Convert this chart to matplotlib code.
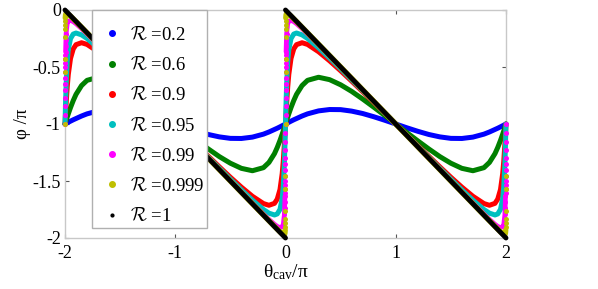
import matplotlib
matplotlib.use("Agg")
import matplotlib.pyplot as plt
from matplotlib.lines import Line2D
import numpy as np

plt.rcParams["font.family"] = ["Liberation Serif", "DejaVu Serif"]
plt.rcParams["mathtext.fontset"] = "cm"
plt.rcParams["axes.unicode_minus"] = False

# one period of theta_cav/pi (the picture repeats it over [-2, 0])
THETA = [0, 0.005, 0.01, 0.02, 0.03, 0.05, 0.075, 0.1, 0.15, 0.2, 0.3, 0.4, 0.5,
         0.6, 0.7, 0.8, 0.9, 1.0, 1.1, 1.2, 1.3, 1.4, 1.5, 1.6, 1.7, 1.8, 1.85,
         1.9, 1.925, 1.95, 1.97, 1.98, 1.99, 1.995, 2.0]

PHI_02 = [-1, -0.998, -0.995, -0.990, -0.985, -0.975, -0.963, -0.952, -0.930,
          -0.911, -0.885, -0.873, -0.874, -0.887, -0.908, -0.936, -0.967, -1.0,
          -1.033, -1.064, -1.092, -1.113, -1.126, -1.127, -1.115, -1.089, -1.070,
          -1.048, -1.037, -1.025, -1.015, -1.010, -1.005, -1.002, -1.0]
PHI_06 = [-1, -0.985, -0.970, -0.940, -0.911, -0.856, -0.794, -0.740, -0.663,
          -0.617, -0.590, -0.611, -0.656, -0.714, -0.781, -0.852, -0.925, -1.0,
          -1.075, -1.148, -1.219, -1.286, -1.344, -1.389, -1.410, -1.383, -1.337,
          -1.260, -1.206, -1.144, -1.089, -1.060, -1.030, -1.015, -1.0]
PHI_09 = [-1, -0.911, -0.825, -0.677, -0.565, -0.425, -0.341, -0.304, -0.287,
          -0.302, -0.366, -0.446, -0.533, -0.624, -0.717, -0.811, -0.905, -1.0,
          -1.095, -1.189, -1.283, -1.376, -1.467, -1.554, -1.634, -1.698, -1.713,
          -1.696, -1.659, -1.575, -1.435, -1.323, -1.175, -1.089, -1.0]
PHI_095 = [-1, -0.816, -0.660, -0.456, -0.347, -0.251, -0.211, -0.202, -0.218,
           -0.250, -0.332, -0.422, -0.516, -0.612, -0.708, -0.805, -0.903, -1.0,
           -1.097, -1.195, -1.292, -1.388, -1.484, -1.578, -1.668, -1.750, -1.782,
           -1.798, -1.789, -1.749, -1.653, -1.544, -1.340, -1.184, -1.0]

# R = 0.99: smooth part + the sparse dots of the jump at theta = 0 / 2
THETA_099 = [0.005, 0.01, 0.02, 0.03, 0.05, 0.075, 0.1, 0.15, 0.2, 0.3, 0.4, 0.5,
             0.6, 0.7, 0.8, 0.9, 1.0, 1.1, 1.2, 1.3, 1.4, 1.5, 1.6, 1.7, 1.8,
             1.85, 1.9, 1.925, 1.95, 1.97, 1.98, 1.99, 1.995]
PHI_099 = [-0.367, -0.207, -0.121, -0.098, -0.091, -0.102, -0.120, -0.163, -0.210,
           -0.306, -0.404, -0.503, -0.602, -0.702, -0.801, -0.901, -1.0, -1.099,
           -1.199, -1.298, -1.398, -1.497, -1.596, -1.694, -1.790, -1.837, -1.880,
           -1.898, -1.909, -1.902, -1.879, -1.793, -1.633]
JUMP_THETA_099 = [0, 0.0004, 0.0008, 0.0012, 0.0016, 0.002, 0.0024, 0.0028, 0.0032,
                  0.0036, 0.004, 0.0045, 0.005, 0.006, 0.0075, 0.01,
                  1.99, 1.9925, 1.994, 1.995, 1.9955, 1.996, 1.9964, 1.9968,
                  1.9972, 1.9976, 1.998, 1.9984, 1.9988, 1.9992, 1.9996, 2.0]
JUMP_PHI_099 = [-1, -0.921, -0.845, -0.772, -0.706, -0.646, -0.593, -0.545, -0.503,
                -0.466, -0.434, -0.398, -0.367, -0.318, -0.264, -0.207,
                -1.793, -1.736, -1.682, -1.633, -1.602, -1.566, -1.534, -1.497,
                -1.455, -1.407, -1.354, -1.294, -1.228, -1.155, -1.079, -1.0]

# R = 0.999
THETA_0999 = [0.003, 0.005, 0.01, 0.02, 0.03, 0.05, 0.1, 0.2, 0.5, 1.0, 1.5, 1.8,
              1.9, 1.95, 1.97, 1.98, 1.99, 1.995, 1.997]
PHI_0999 = [-0.070, -0.045, -0.030, -0.030, -0.037, -0.054, -0.102, -0.201, -0.500,
            -1.0, -1.500, -1.799, -1.898, -1.946, -1.963, -1.970, -1.970, -1.955,
            -1.930]
JUMP_THETA_0999 = [0, 0.00028, 0.0004, 0.0008, 0.0012, 0.0016, 0.002,
                   1.998, 1.9984, 1.9988, 1.9992, 1.9996, 1.99972]
JUMP_PHI_0999 = [-1, -0.54, -0.43, -0.24, -0.17, -0.13, -0.10,
                 -1.90, -1.87, -1.83, -1.76, -1.57, -1.46]

# R = 1
THETA_1 = [0, 2]
PHI_1 = [0, -2]

LABELS = ["0.2", "0.6", "0.9", "0.95", "0.99", "0.999", "1"]
COLORS = ["#0000ff", "#008000", "#ff0000", "#00bfbf", "#ff00ff", "#bfbf00", "#000000"]
PERIODS = [-2, 0]

fig = plt.figure(figsize=(5.98, 2.89), dpi=100)
ax = fig.add_axes([65 / 598, 1 - 238 / 289, 441 / 598, 228 / 289])

smooth = [(THETA, PHI_02), (THETA, PHI_06), (THETA, PHI_09), (THETA, PHI_095),
          (THETA_099, PHI_099), (THETA_0999, PHI_0999), (THETA_1, PHI_1)]
widths = [3.6, 3.6, 3.6, 3.6, 3.4, 3.9, 3.5]
jumps = {4: (JUMP_THETA_099, JUMP_PHI_099), 5: (JUMP_THETA_0999, JUMP_PHI_0999)}

for i, (th, ph) in enumerate(smooth):
    th = np.array(th, dtype=float)
    for p in PERIODS:
        ax.plot(th + p, ph, "-", color=COLORS[i], lw=widths[i],
                solid_capstyle="round", clip_on=False, zorder=2 + i)
    if i in jumps:
        jt, jp = jumps[i]
        jt = np.array(jt, dtype=float)
        for p in PERIODS:
            ax.plot(jt + p, jp, "o", color=COLORS[i], ms=3.6, mew=0,
                    clip_on=False, zorder=2 + i)

ax.set_xlim(-2, 2)
ax.set_ylim(-2, 0)
ax.set_xticks([-2, -1, 0, 1, 2])
ax.set_xticklabels(["-2", "-1", "0", "1", "2"])
ax.set_yticks([0, -0.5, -1, -1.5, -2])
ax.set_yticklabels(["0", "-0.5", "-1", "-1.5", "-2"])
ax.tick_params(direction="in", length=3, width=0.8, color="#555555",
               labelsize=13, top=True, right=True)
ax.tick_params(axis="x", pad=5)
ax.tick_params(axis="y", pad=3)
for s in ax.spines.values():
    s.set_color("#c8c8c8")
    s.set_linewidth(1.0)

ax.set_ylabel("φ /π", fontsize=13.5, labelpad=1)
ax.set_xlabel(r"$\mathregular{θ_{cav}/π}$", fontsize=14, labelpad=0)

handles = [Line2D([], [], ls="none", marker=".", color=c, ms=8 if k < 6 else 4)
           for k, c in enumerate(COLORS)]
leg = ax.legend(handles, [r"$\mathcal{R}$ =" + l for l in LABELS],
                loc="upper left", bbox_to_anchor=(27 / 441, 1.0), fontsize=13.5,
                title=" ", title_fontsize=0.5,
                frameon=True, fancybox=False, edgecolor="#b0b0b0",
                framealpha=1, handlelength=1.8, handletextpad=0.05,
                labelspacing=0.65, borderpad=0.15, borderaxespad=0)
leg.get_frame().set_linewidth(1.0)
leg.set_zorder(20)

fig.savefig("out.png", dpi=100)
